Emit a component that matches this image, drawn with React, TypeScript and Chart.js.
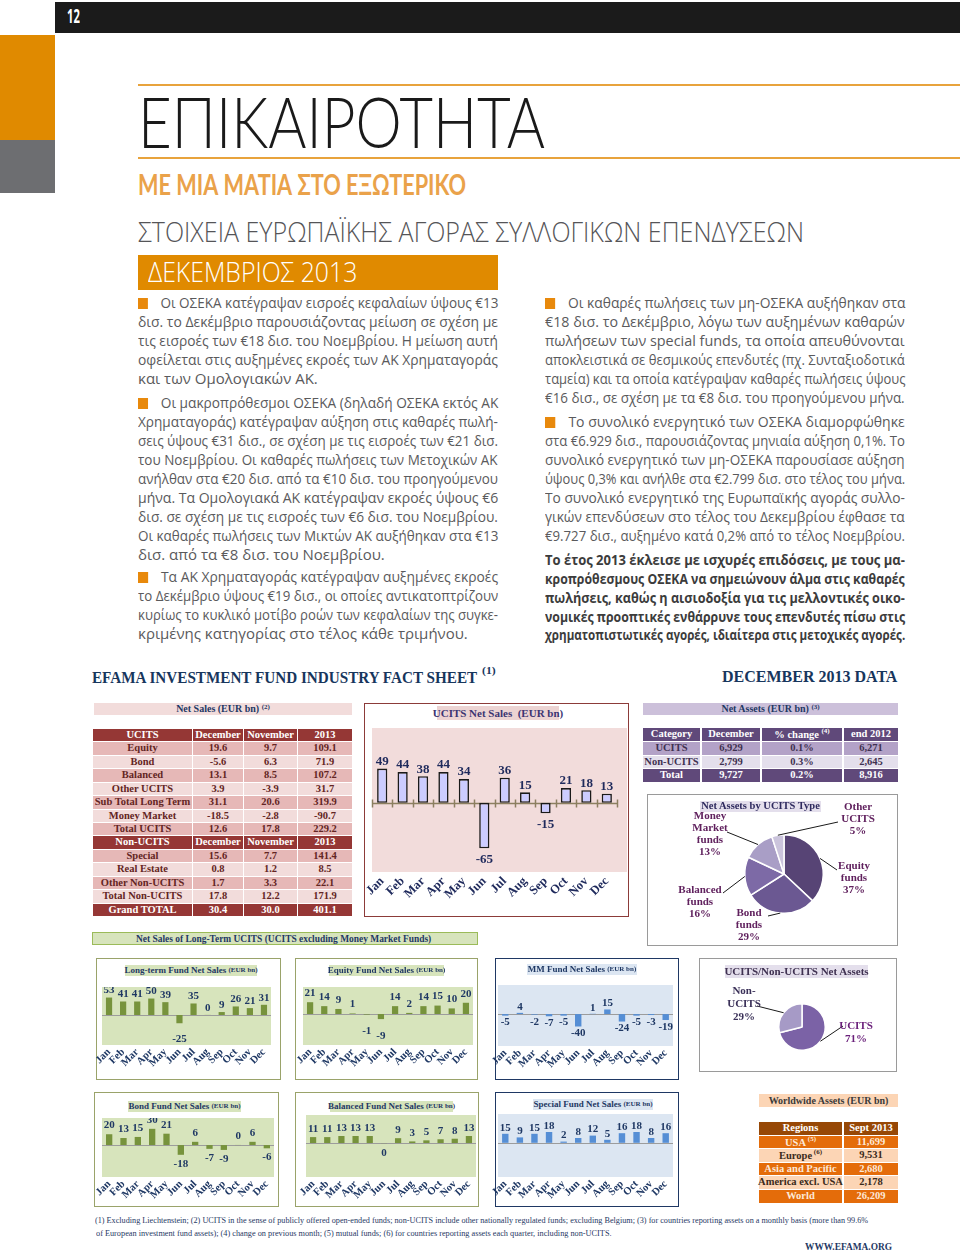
import React, { useEffect, useLayoutEffect, useRef } from "react";
import { Chart, registerables } from "chart.js";
Chart.register(...registerables);

// ---------------- DATA ----------------
const months = ["Jan", "Feb", "Mar", "Apr", "May", "Jun", "Jul", "Aug", "Sep", "Oct", "Nov", "Dec"];
const ucitsNetSales = [49, 44, 38, 44, 34, -65, 36, 15, -15, 21, 18, 13];
const longTermNetSales = [53, 41, 41, 50, 39, -25, 35, 0.3, 9, 26, 21, 31];
const equityNetSales = [21, 14, 9, 1, -1, -9, 14, 2, 14, 15, 10, 20];
const mmNetSales = [-5, 4, -2, -7, -5, -40, 1, 15, -24, -5, -3, -19];
const bondNetSales = [20, 13, 15, 30, 21, -18, 6, -7, -9, 0.2, 6, -6];
const balancedNetSales = [11, 11, 13, 13, 13, -0.3, 9, 3, 5, 7, 8, 13];
const specialNetSales = [15, 9, 15, 18, 2, 8, 12, 5, 16, 18, 8, 16];

const ucitsTypeLabels = ["Equity\nfunds", "Bond\nfunds", "Balanced\nfunds", "Money\nMarket\nfunds", "Other\nUCITS"];
const ucitsTypeShares = [37, 29, 16, 13, 5];
const assetSplitLabels = ["UCITS", "Non-\nUCITS"];
const assetSplitShares = [71, 29];

const netSalesColumns = ["December", "November", "2013"];
const ucitsCategories = ["Equity", "Bond", "Balanced", "Other UCITS", "Sub Total Long Term", "Money Market", "Total UCITS"];
const ucitsDecember = [19.6, -5.6, 13.1, 3.9, 31.1, -18.5, 12.6];
const ucitsNovember = [9.7, 6.3, 8.5, -3.9, 20.6, -2.8, 17.8];
const ucits2013 = [109.1, 71.9, 107.2, 31.7, 319.9, -90.7, 229.2];
const nonUcitsCategories = ["Special", "Real Estate", "Other Non-UCITS", "Total Non-UCITS"];
const nonUcitsDecember = [15.6, 0.8, 1.7, 17.8];
const nonUcitsNovember = [7.7, 1.2, 3.3, 12.2];
const nonUcits2013 = [141.4, 8.5, 22.1, 171.9];
const grandTotal = [30.4, 30.0, 401.1];

const assetCategories = ["UCITS", "Non-UCITS", "Total"];
const assetsDecember = [6929, 2799, 9727];
const assetsChange = [0.1, 0.3, 0.2];
const assetsEnd2012 = [6271, 2645, 8916];

const regions = ["USA", "Europe", "Asia and Pacific", "America excl. USA", "World"];
const regionNotes = ["(5)", "(6)", "", "", ""];
const regionAssets = [11699, 9531, 2680, 2178, 26209];

// ---------------- STYLE ----------------
const SERIF = "'Liberation Serif', 'DejaVu Serif', serif";
const SANS = "'Open Sans', 'DejaVu Sans', sans-serif";
const HEAD = "Lato, 'Open Sans', 'DejaVu Sans', sans-serif";
const NAVY = "#1f3864";
const fmt1 = (v: number) => v.toFixed(1);
const fmtK = (v: number) => v.toLocaleString("en-US");

// text helper: scale / justify a single line to width
function T({ x, y, w, mode = "fit", style, children }: any) {
  const ref = useRef<HTMLDivElement>(null);
  useLayoutEffect(() => {
    const el = ref.current;
    if (!el) return;
    const run = () => {
      el.style.transform = "none";
      el.style.wordSpacing = "0px";
      const nat = el.offsetWidth;
      if (!w || !nat) return;
      const spaces = ((el.textContent || "").match(/ /g) || []).length;
      if (mode === "scale" || nat > w) el.style.transform = `scaleX(${w / nat})`;
      else if (mode === "justify" && spaces) el.style.wordSpacing = `${(w - nat) / spaces}px`;
    };
    run();
    const f: any = (document as any).fonts;
    if (f && f.ready) f.ready.then(run);
  }, []);
  return (
    <div ref={ref} style={{ position: "absolute", left: x, top: y, whiteSpace: "nowrap", transformOrigin: "0 0", ...style }}>
      {children}
    </div>
  );
}

function Rect({ x, y, w, h, style }: any) {
  return <div style={{ position: "absolute", left: x, top: y, width: w, height: h, boxSizing: "border-box", ...style }} />;
}

function TitleBar({ x, y, w, h, bg, color, size, children }: any) {
  return (
    <div style={{ position: "absolute", left: x, top: y, width: w, height: h, background: bg, color, fontFamily: SERIF, fontWeight: "bold", fontSize: size, display: "flex", alignItems: "center", justifyContent: "center", whiteSpace: "nowrap", lineHeight: 1 }}>
      {children}
    </div>
  );
}

// ---------------- BAR CHART ----------------
function BarChart({ s }: any) {
  const ref = useRef<HTMLCanvasElement>(null);
  const W = s.pw + s.padL + s.padR;
  const H = s.ph + s.axisH;
  useEffect(() => {
    const deco = {
      id: "deco",
      beforeDatasetsDraw(chart: any) {
        const { ctx, chartArea: a, scales } = chart;
        ctx.save();
        ctx.fillStyle = s.bg;
        ctx.fillRect(a.left, a.top, a.right - a.left + (s.bgExtraR || 0), a.bottom - a.top);
        const y0 = Math.round(scales.y.getPixelForValue(0)) + 0.5;
        ctx.strokeStyle = s.zeroColor;
        ctx.lineWidth = s.zeroWidth;
        ctx.beginPath();
        ctx.moveTo(a.left, y0);
        ctx.lineTo(a.right, y0);
        ctx.stroke();
        if (s.tickMarks) {
          for (let i = 0; i <= s.values.length; i++) {
            const x = Math.round(scales.x.getPixelForValue(i - 0.5)) + 0.5;
            ctx.beginPath();
            ctx.moveTo(x, y0 - 4);
            ctx.lineTo(x, y0 + 4);
            ctx.stroke();
          }
        }
        ctx.restore();
      },
      afterDatasetsDraw(chart: any) {
        const { ctx } = chart;
        const meta = chart.getDatasetMeta(0);
        ctx.save();
        ctx.font = s.valFont;
        ctx.fillStyle = s.valColor;
        ctx.textAlign = "center";
        ctx.textBaseline = "middle";
        meta.data.forEach((el: any, i: number) => {
          const v = s.values[i];
          const p = el.getProps(["x", "y", "base"], true);
          const top = Math.min(p.y, p.base);
          const bot = Math.max(p.y, p.base);
          const ty = v >= 0 ? top + s.posOff : bot + s.negOff;
          const r = Math.round(v);
          ctx.fillText(String(r === 0 ? 0 : r), p.x, ty);
        });
        ctx.restore();
      },
    };
    const chart = new Chart(ref.current as HTMLCanvasElement, {
      type: "bar",
      data: {
        labels: months,
        datasets: [
          {
            data: s.values,
            backgroundColor: s.barColor,
            borderColor: s.borderColor || s.barColor,
            borderWidth: s.borderWidth || 0,
            borderSkipped: false,
            barPercentage: s.barPct,
            categoryPercentage: 1,
          },
        ],
      },
      options: {
        animation: false,
        responsive: false,
        maintainAspectRatio: false,
        layout: { padding: { left: s.padL, right: s.padR, top: 0, bottom: 0 } },
        plugins: { legend: { display: false }, tooltip: { enabled: false }, title: { display: false } },
        scales: {
          x: {
            grid: { display: false },
            border: { display: false },
            ticks: {
              autoSkip: false,
              minRotation: 45,
              maxRotation: 45,
              padding: s.tickPad,
              color: s.tickColor,
              font: { family: "Liberation Serif", size: s.tickSize, weight: "bold" },
            },
            afterFit(sc: any) {
              sc.height = s.axisH;
              sc.paddingLeft = 0;
              sc.paddingRight = 0;
            },
          },
          y: { display: false, min: s.min, max: s.max },
        },
      } as any,
      plugins: [deco],
    });
    return () => chart.destroy();
  }, []);
  return (
    <canvas ref={ref} width={W} height={H} style={{ position: "absolute", left: s.px - s.padL, top: s.py, width: W, height: H }} />
  );
}

// ---------------- PIE CHART ----------------
function PieChart({ s }: any) {
  const ref = useRef<HTMLCanvasElement>(null);
  const b = s.box;
  useEffect(() => {
    const lbl = {
      id: "pielabels",
      afterDatasetsDraw(chart: any) {
        const ctx = chart.ctx;
        const meta = chart.getDatasetMeta(0);
        ctx.save();
        meta.data.forEach((arc: any, i: number) => {
          const p = arc.getProps(["x", "y", "startAngle", "endAngle", "outerRadius"], true);
          const mid = (p.startAngle + p.endAngle) / 2;
          const sx = p.x + Math.cos(mid) * p.outerRadius;
          const sy = p.y + Math.sin(mid) * p.outerRadius;
          const [ex, ey] = s.leaderEnd[i];
          ctx.strokeStyle = "#1a1a1a";
          ctx.lineWidth = 1;
          ctx.beginPath();
          ctx.moveTo(sx, sy);
          ctx.lineTo(p.x + ex, p.y + ey);
          ctx.stroke();
          const lines = [...s.labels[i].split("\n"), `${s.values[i]}%`];
          const [lx, ly] = s.labelPos[i];
          ctx.fillStyle = s.labelColors[i];
          ctx.font = s.font;
          ctx.textAlign = "center";
          ctx.textBaseline = "middle";
          lines.forEach((t: string, k: number) => ctx.fillText(t, p.x + lx, p.y + ly + (k - (lines.length - 1) / 2) * s.lineH));
        });
        ctx.restore();
      },
    };
    const chart = new Chart(ref.current as HTMLCanvasElement, {
      type: "pie",
      data: {
        labels: s.labels,
        datasets: [{ data: s.values, backgroundColor: s.colors, borderColor: "#ffffff", borderWidth: 1.5, hoverOffset: 0 }],
      },
      options: {
        animation: false,
        responsive: false,
        maintainAspectRatio: false,
        layout: {
          padding: {
            left: s.cx - s.r - b.x,
            top: s.cy - s.r - b.y,
            right: b.x + b.w - (s.cx + s.r),
            bottom: b.y + b.h - (s.cy + s.r),
          },
        },
        plugins: { legend: { display: false }, tooltip: { enabled: false } },
      } as any,
      plugins: [lbl],
    });
    return () => chart.destroy();
  }, []);
  return <canvas ref={ref} width={b.w} height={b.h} style={{ position: "absolute", left: b.x, top: b.y, width: b.w, height: b.h }} />;
}

// ---------------- TABLE ----------------
function Table({ cols, top, rowH, rows }: any) {
  const out: any[] = [];
  rows.forEach((r: any, i: number) => {
    r.cells.forEach((c: any, j: number) => {
      const [x, w] = cols[j];
      out.push(
        <div key={i + "-" + j} style={{ position: "absolute", left: x, top: top + i * rowH, width: w, height: rowH - 1, background: r.bg, color: r.color, fontFamily: SERIF, fontWeight: "bold", fontSize: r.size || 10.5, display: "flex", alignItems: "center", justifyContent: "center", whiteSpace: "nowrap", lineHeight: 1 }}>
          {c}
        </div>
      );
    });
  });
  return <>{out}</>;
}

// ---------------- LAYOUT SPECS ----------------
const smallGreen = { barColor: "#77933c", bg: "#d7e4bc", zeroColor: "#9c9c9c", zeroWidth: 1, barPct: 0.44, valFont: `bold 11px ${SERIF}`, valColor: NAVY, tickColor: NAVY, tickSize: 10.5, tickPad: -7, padL: 14, padR: 6 };
const smallBlue = { ...smallGreen, barColor: "#558ed5", bg: "#dce6f2" };

const ucitsSpec = { values: ucitsNetSales, px: 372, py: 728, pw: 245, ph: 144, padL: 14, padR: 14, axisH: 34, min: -99, max: 107, barColor: "#ccccff", borderColor: "#1a1a1a", borderWidth: 1.6, barPct: 0.5, bg: "#f2dcdb", bgExtraR: 10, zeroColor: "#8c7f60", zeroWidth: 1.5, tickMarks: true, valFont: `bold 13px ${SERIF}`, valColor: "#1f2a5c", posOff: -7, negOff: 11, tickColor: "#1f2a5c", tickSize: 12.5, tickPad: -6 };
const longTermSpec = { ...smallGreen, values: longTermNetSales, px: 102, py: 987, pw: 169, ph: 58, axisH: 28, min: -91, max: 85, posOff: -7, negOff: 16 };
const equitySpec = { ...smallGreen, values: equityNetSales, px: 303, py: 987, pw: 170, ph: 58, axisH: 28, min: -55, max: 48, posOff: -9, negOff: 17 };
const mmSpec = { ...smallBlue, values: mmNetSales, px: 498, py: 985, pw: 175, ph: 61, axisH: 28, min: -103, max: 94, posOff: -6, negOff: 7 };
const bondSpec = { ...smallGreen, values: bondNetSales, px: 102, py: 1118, pw: 172, ph: 59, axisH: 28, min: -59, max: 50, posOff: -9, negOff: 9 };
const balancedSpec = { ...smallGreen, values: balancedNetSales, px: 306, py: 1115, pw: 170, ph: 62, axisH: 28, min: -63, max: 52, posOff: -8, negOff: 10 };
const specialSpec = { ...smallBlue, values: specialNetSales, px: 498, py: 1114, pw: 175, ph: 63, axisH: 28, min: -57, max: 48, posOff: -6, negOff: 8 };

const ucitsTypePie = {
  values: ucitsTypeShares, labels: ucitsTypeLabels,
  colors: ["#574475", "#6b5892", "#7d6aa6", "#a99ec6", "#cbc4dc"],
  cx: 784, cy: 874, r: 40, box: { x: 647, y: 794, w: 251, h: 152 },
  labelPos: [[70, 4], [-35, 51], [-84, 28], [-74, -40], [74, -55]],
  leaderEnd: [[53, -4], [-16, 42], [-61, 19], [-57, -42], [54, -52]],
  labelColors: ["#60215e", "#60215e", "#60215e", "#60215e", "#60215e"],
  font: `bold 11px ${SERIF}`, lineH: 12,
};
const assetSplitPie = {
  values: assetSplitShares, labels: assetSplitLabels,
  colors: ["#7b62a6", "#a69ac6"],
  cx: 802, cy: 1027, r: 24, box: { x: 699, y: 958, w: 198, h: 114 },
  labelPos: [[54, 6], [-58, -23]],
  leaderEnd: [[41, -1], [-45, -21]],
  labelColors: ["#6a1f7a", "#3b3159"],
  font: `bold 11px ${SERIF}`, lineH: 13,
};

// ---------------- TEXT ----------------
const leftLines: [string, number, boolean, boolean, boolean][] = [
  // text, y-center, justify, bullet, bold
  ["Οι ΟΣΕΚΑ κατέγραψαν εισροές κεφαλαίων ύψους €13", 304, true, true, false],
  ["δισ. το Δεκέμβριο παρουσιάζοντας μείωση σε σχέση με", 323, true, false, false],
  ["τις εισροές των €18 δισ. του Νοεμβρίου. Η μείωση αυτή", 342, true, false, false],
  ["οφείλεται στις αυξημένες εκροές των ΑΚ Χρηματαγοράς", 361, true, false, false],
  ["και των Ομολογιακών ΑΚ.", 380, false, false, false],
  ["Οι μακροπρόθεσμοι ΟΣΕΚΑ (δηλαδή ΟΣΕΚΑ εκτός ΑΚ", 404, true, true, false],
  ["Χρηματαγοράς) κατέγραψαν αύξηση στις καθαρές πωλή-", 423, true, false, false],
  ["σεις ύψους €31 δισ., σε σχέση με τις εισροές των €21 δισ.", 442, true, false, false],
  ["του Νοεμβρίου. Οι καθαρές πωλήσεις των Μετοχικών ΑΚ", 461, true, false, false],
  ["ανήλθαν στα €20 δισ. από τα €10 δισ. του προηγούμενου", 480, true, false, false],
  ["μήνα. Τα Ομολογιακά ΑΚ κατέγραψαν εκροές ύψους €6", 499, true, false, false],
  ["δισ. σε σχέση με τις εισροές των €6 δισ. του Νοεμβρίου.", 518, true, false, false],
  ["Οι καθαρές πωλήσεις των Μικτών ΑΚ αυξήθηκαν στα €13", 537, true, false, false],
  ["δισ. από τα €8 δισ. του Νοεμβρίου.", 556, false, false, false],
  ["Τα ΑΚ Χρηματαγοράς κατέγραψαν αυξημένες εκροές", 578, true, true, false],
  ["το Δεκέμβριο ύψους €19 δισ., οι οποίες αντικατοπτρίζουν", 597, true, false, false],
  ["κυρίως το κυκλικό μοτίβο ροών των κεφαλαίων της συγκε-", 616, true, false, false],
  ["κριμένης κατηγορίας στο τέλος κάθε τριμήνου.", 635, false, false, false],
];
const rightLines: [string, number, boolean, boolean, boolean][] = [
  ["Οι καθαρές πωλήσεις των μη-ΟΣΕΚΑ αυξήθηκαν στα", 304, true, true, false],
  ["€18 δισ. το Δεκέμβριο, λόγω των αυξημένων καθαρών", 323, true, false, false],
  ["πωλήσεων των special funds, τα οποία απευθύνονται", 342, true, false, false],
  ["αποκλειστικά σε θεσμικούς επενδυτές (πχ. Συνταξιοδοτικά", 361, true, false, false],
  ["ταμεία) και τα οποία κατέγραψαν καθαρές πωλήσεις ύψους", 380, true, false, false],
  ["€16 δισ., σε σχέση με τα €8 δισ. του προηγούμενου μήνα.", 399, true, false, false],
  ["Το συνολικό ενεργητικό των ΟΣΕΚΑ διαμορφώθηκε", 423, true, true, false],
  ["στα €6.929 δισ., παρουσιάζοντας μηνιαία αύξηση 0,1%. Το", 442, true, false, false],
  ["συνολικό ενεργητικό των μη-ΟΣΕΚΑ παρουσίασε αύξηση", 461, true, false, false],
  ["ύψους 0,3% και ανήλθε στα €2.799 δισ. στο τέλος του μήνα.", 480, true, false, false],
  ["Το συνολικό ενεργητικό της Ευρωπαϊκής αγοράς συλλο-", 499, true, false, false],
  ["γικών επενδύσεων στο τέλος του Δεκεμβρίου έφθασε τα", 518, true, false, false],
  ["€9.727 δισ., αυξημένο κατά 0,2% από το τέλος Νοεμβρίου.", 537, true, false, false],
  ["Το έτος 2013 έκλεισε με ισχυρές επιδόσεις, με τους μα-", 561, true, false, true],
  ["κροπρόθεσμους ΟΣΕΚΑ να σημειώνουν άλμα στις καθαρές", 580, true, false, true],
  ["πωλήσεις, καθώς η αισιοδοξία για τις μελλοντικές οικο-", 599, true, false, true],
  ["νομικές προοπτικές ενθάρρυνε τους επενδυτές πίσω στις", 618, true, false, true],
  ["χρηματοπιστωτικές αγορές, ιδιαίτερα στις μετοχικές αγορές.", 636, true, false, true],
];

function Column({ x, lines }: any) {
  return (
    <>
      {lines.map(([t, yc, just, bullet, bold]: any, i: number) => (
        <T key={i} x={x} y={yc - 12} w={360} mode={just ? "justify" : "fit"} style={{ fontFamily: SANS, fontSize: 15, lineHeight: "20px", color: bold ? "#3c3c3c" : "#5a5a5c", fontWeight: bold ? 700 : 400 }}>
          {bullet ? <span style={{ display: "inline-block", width: 11, height: 11, background: "#e8890c", marginRight: 14, verticalAlign: "-1px" }} /> : null}
          {t}
        </T>
      ))}
    </>
  );
}

// ---------------- APP ----------------
export default function App() {
  const nsCols = [[93, 99], [193, 50], [244, 53], [298, 54]];
  const dark = { bg: "#e6b8b7", color: "#632523" };
  const light = { bg: "#f2dcdb", color: "#632523" };
  const head = { bg: "#953735", color: "#ffffff" };
  const nsRows: any[] = [];
  nsRows.push({ ...head, cells: ["UCITS", ...netSalesColumns] });
  ucitsCategories.forEach((c, i) => nsRows.push({ ...(i % 2 === 0 ? dark : light), cells: [c, fmt1(ucitsDecember[i]), fmt1(ucitsNovember[i]), fmt1(ucits2013[i])] }));
  nsRows.push({ ...head, cells: ["Non-UCITS", ...netSalesColumns] });
  nonUcitsCategories.forEach((c, i) => nsRows.push({ ...(i % 2 === 0 ? dark : light), cells: [c, fmt1(nonUcitsDecember[i]), fmt1(nonUcitsNovember[i]), fmt1(nonUcits2013[i])] }));
  nsRows.push({ ...head, cells: ["Grand TOTAL", ...grandTotal.map(fmt1)] });

  const naCols = [[643, 57], [702, 58], [762, 80], [844, 54]];
  const naRows: any[] = [
    { bg: "#60497a", color: "#ffffff", cells: ["Category", "December", <span>% change <sup style={{ fontSize: 7 }}>(4)</sup></span>, "end 2012"] },
  ];
  const naStyles = [{ bg: "#b3a2c7", color: "#3f3151" }, { bg: "#e4dfec", color: "#3f3151" }, { bg: "#60497a", color: "#ffffff" }];
  assetCategories.forEach((c, i) => naRows.push({ ...naStyles[i], cells: [c, fmtK(assetsDecember[i]), fmt1(assetsChange[i]) + "%", fmtK(assetsEnd2012[i])] }));

  const wwCols = [[759, 83], [844, 54]];
  const wwRows: any[] = [{ bg: "#974806", color: "#ffffff", cells: ["Regions", "Sept 2013"] }];
  regions.forEach((r, i) =>
    wwRows.push({
      ...(i % 2 === 0 ? { bg: "#e46c0a", color: "#fde9d9" } : { bg: "#fcd5b5", color: "#3a2a1a" }),
      cells: [<span>{r}{regionNotes[i] ? <sup style={{ fontSize: 7 }}> {regionNotes[i]}</sup> : null}</span>, fmtK(regionAssets[i])],
    })
  );

  return (
    <div style={{ position: "absolute", left: 0, top: 0, width: 960, height: 1255, overflow: "hidden", background: "#ffffff" }}>
      {/* header decorations */}
      <Rect x={55} y={2} w={905} h={31} style={{ background: "#1b1b1b" }} />
      <T x={67} y={7} w={13} mode="scale" style={{ fontFamily: SANS, fontWeight: 700, fontSize: 19, lineHeight: "19px", color: "#fff" }}>12</T>
      <Rect x={0} y={35} w={55} h={105} style={{ background: "#e08a00" }} />
      <Rect x={0} y={140} w={55} h={53} style={{ background: "#6d6e71" }} />
      <Rect x={138} y={84} w={822} h={2} style={{ background: "#e8a33c" }} />
      <Rect x={138} y={157} w={822} h={2} style={{ background: "#e8a33c" }} />
      <T x={138} y={85} w={407} mode="scale" style={{ fontFamily: HEAD, fontWeight: 300, fontSize: 71, lineHeight: "71px", color: "#1a1a1a" }}>ΕΠΙΚΑΙΡΟΤΗΤΑ</T>
      <T x={138} y={170} w={328} mode="scale" style={{ fontFamily: HEAD, fontWeight: 700, fontSize: 28, lineHeight: "28px", color: "#eaa24a" }}>ΜΕ ΜΙΑ ΜΑΤΙΑ ΣΤΟ ΕΞΩΤΕΡΙΚΟ</T>
      <T x={138} y={217} w={666} mode="scale" style={{ fontFamily: SANS, fontWeight: 300, fontSize: 28, lineHeight: "28px", color: "#555558" }}>ΣΤΟΙΧΕΙΑ ΕΥΡΩΠΑΪΚΗΣ ΑΓΟΡΑΣ ΣΥΛΛΟΓΙΚΩΝ ΕΠΕΝΔΥΣΕΩΝ</T>
      <Rect x={138} y={255} w={360} h={35} style={{ background: "#e08a00" }} />
      <T x={148} y={257} w={209} mode="scale" style={{ fontFamily: SANS, fontWeight: 300, fontSize: 28, lineHeight: "28px", color: "#ffffff" }}>ΔΕΚΕΜΒΡΙΟΣ 2013</T>

      {/* body text */}
      <Column x={138} lines={leftLines} />
      <Column x={545} lines={rightLines} />

      {/* EFAMA header */}
      <T x={92} y={670} w={385} mode="scale" style={{ fontFamily: SERIF, fontWeight: 700, fontSize: 16, lineHeight: "16px", color: "#17365d" }}>EFAMA INVESTMENT FUND INDUSTRY FACT SHEET</T>
      <T x={482} y={666} w={14} mode="scale" style={{ fontFamily: SERIF, fontWeight: 700, fontSize: 10, lineHeight: "10px", color: "#17365d" }}>(1)</T>
      <T x={722} y={669} w={175} mode="scale" style={{ fontFamily: SERIF, fontWeight: 700, fontSize: 16, lineHeight: "16px", color: "#17365d" }}>DECEMBER 2013 DATA</T>

      {/* Net sales table */}
      <TitleBar x={94} y={703} w={258} h={12} bg="#f2dcdb" color={NAVY} size={10}>Net Sales (EUR bn)&nbsp;<sup style={{ fontSize: 7, position: "relative", top: -2 }}>(2)</sup></TitleBar>
      <Table cols={nsCols} top={729} rowH={13.43} rows={nsRows} />

      {/* UCITS net sales chart */}
      <Rect x={364} y={703} w={265} h={214} style={{ border: "1.5px solid #8c3b39" }} />
      <BarChart s={ucitsSpec} />
      <TitleBar x={437} y={706} w={122} h={14} bg="#ecd3d2" color="#3c3572" size={11}>UCITS Net Sales&nbsp;&nbsp;(EUR bn)</TitleBar>

      {/* Net assets table */}
      <TitleBar x={643} y={703} w={255} h={12} bg="#ccc0da" color={NAVY} size={10}>Net Assets (EUR bn)&nbsp;<sup style={{ fontSize: 7, position: "relative", top: -2 }}>(3)</sup></TitleBar>
      <Table cols={naCols} top={728} rowH={13.75} rows={naRows} />

      {/* Net assets by UCITS type pie */}
      <Rect x={647} y={794} w={251} h={152} style={{ border: "1.5px solid #9a9a9a" }} />
      <PieChart s={ucitsTypePie} />
      <TitleBar x={700} y={801} w={121} h={11} bg="#e4dfec" color="#2e2a5e" size={10.5}>Net Assets by UCITS Type</TitleBar>

      {/* green banner */}
      <Rect x={92} y={932} w={386} h={13} style={{ background: "#d7e4bc", border: "1px solid #9bbb59" }} />
      <T x={136} y={934} w={295} mode="scale" style={{ fontFamily: SERIF, fontWeight: 700, fontSize: 10, lineHeight: "10px", color: NAVY }}>Net Sales of Long-Term UCITS (UCITS excluding Money Market Funds)</T>

      {/* row 1 small charts */}
      <Rect x={96} y={958} w={185} h={122} style={{ border: "1.5px solid #9aa36a" }} />
      <Rect x={295} y={958} w={183} h={122} style={{ border: "1.5px solid #9aa36a" }} />
      <Rect x={495} y={958} w={184} h={122} style={{ border: "1.5px solid #1f3864" }} />
      <Rect x={699} y={958} w={198} h={114} style={{ border: "1.5px solid #9a9a9a" }} />
      <BarChart s={longTermSpec} />
      <BarChart s={equitySpec} />
      <BarChart s={mmSpec} />
      <PieChart s={assetSplitPie} />
      <TitleBar x={125} y={965} w={132} h={11} bg="#d7e4bc" color={NAVY} size={9}>Long-term Fund Net Sales&nbsp;<span style={{ fontSize: 7 }}>(EUR bn)</span></TitleBar>
      <TitleBar x={329} y={965} w={115} h={11} bg="#d7e4bc" color={NAVY} size={9}>Equity Fund Net Sales&nbsp;<span style={{ fontSize: 7 }}>(EUR bn)</span></TitleBar>
      <TitleBar x={527} y={964} w={110} h={11} bg="#dce6f2" color={NAVY} size={9}>MM Fund Net Sales&nbsp;<span style={{ fontSize: 7 }}>(EUR bn)</span></TitleBar>
      <TitleBar x={725} y={965} w={143} h={13} bg="#e4dfec" color="#3f3151" size={11}>UCITS/Non-UCITS Net Assets</TitleBar>

      {/* row 2 small charts */}
      <Rect x={94} y={1092} w={185} h={115} style={{ border: "1.5px solid #9aa36a" }} />
      <Rect x={295} y={1092} w={184} h={115} style={{ border: "1.5px solid #9aa36a" }} />
      <Rect x={495} y={1092} w={184} h={115} style={{ border: "1.5px solid #1f3864" }} />
      <BarChart s={bondSpec} />
      <BarChart s={balancedSpec} />
      <BarChart s={specialSpec} />
      <TitleBar x={128} y={1101} w={113} h={11} bg="#d7e4bc" color={NAVY} size={9}>Bond Fund Net Sales&nbsp;<span style={{ fontSize: 7 }}>(EUR bn)</span></TitleBar>
      <TitleBar x={330} y={1101} w={123} h={11} bg="#d7e4bc" color={NAVY} size={9}>Balanced Fund Net Sales&nbsp;<span style={{ fontSize: 7 }}>(EUR bn)</span></TitleBar>
      <TitleBar x={533} y={1099} w={120} h={11} bg="#dce6f2" color={NAVY} size={9}>Special Fund Net Sales&nbsp;<span style={{ fontSize: 7 }}>(EUR bn)</span></TitleBar>

      {/* worldwide table */}
      <TitleBar x={759} y={1094} w={139} h={13} bg="#fcd5b5" color="#3a3a3a" size={10}>Worldwide Assets (EUR bn)</TitleBar>
      <Table cols={wwCols} top={1122} rowH={13.6} rows={wwRows} />

      {/* footnotes */}
      <T x={95} y={1216} w={773} mode="scale" style={{ fontFamily: SERIF, fontSize: 8.5, lineHeight: "9px", color: "#1f3864" }}>(1) Excluding Liechtenstein; (2) UCITS in the sense of publicly offered open-ended funds; non-UCITS include other nationally regulated funds; excluding Belgium; (3) for countries reporting assets on a monthly basis (more than 99.6%</T>
      <T x={96} y={1229} w={516} mode="scale" style={{ fontFamily: SERIF, fontSize: 8.5, lineHeight: "9px", color: "#1f3864" }}>of European investment fund assets); (4) change on previous month; (5) mutual funds; (6) for countries reporting assets each quarter, including non-UCITS.</T>
      <T x={805} y={1241} w={87} mode="scale" style={{ fontFamily: SERIF, fontWeight: 700, fontSize: 11, lineHeight: "11px", color: "#1f3864" }}>WWW.EFAMA.ORG</T>
    </div>
  );
}
